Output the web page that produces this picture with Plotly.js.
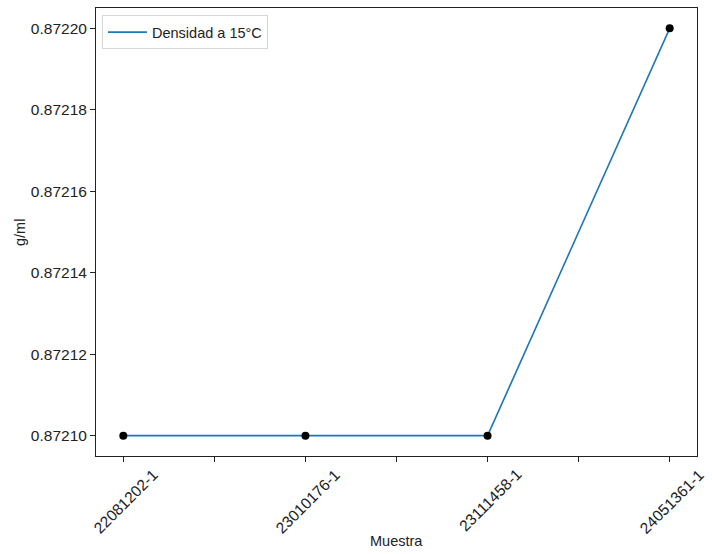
<!DOCTYPE html>
<html>
<head>
<meta charset="utf-8">
<script src="https://cdn.plot.ly/plotly-3.0.1.min.js"></script>
<style>html,body{margin:0;padding:0;background:#fff;}#chart{width:712px;height:554px;}</style>
</head>
<body>
<div id="chart"></div>
<script>
const muestras = ["22081202-1", "23010176-1", "23111458-1", "24051361-1"];
const densidad = [0.87210, 0.87210, 0.87210, 0.87220];
const serieNombre = "Densidad a 15°C";
const yTicks = [0.87210, 0.87212, 0.87214, 0.87216, 0.87218, 0.87220];
const yTickText = ["0.87210", "0.87212", "0.87214", "0.87216", "0.87218", "0.87220"];

const idx = muestras.map((_, i) => i);
const xTickVals = [];
for (let i = 0; i < muestras.length; i++) {
  xTickVals.push(i);
  if (i < muestras.length - 1) xTickVals.push(i + 0.5);
}

const fam = "Liberation Sans, Arial, sans-serif";
const col = "#222";

const traces = [
  {x: idx, y: densidad, mode: "lines", name: serieNombre,
   line: {color: "#1f77b4", width: 1.6}},
  {x: idx, y: densidad, mode: "markers", showlegend: false,
   marker: {color: "#000", size: 8}}
];

// category labels, centred under each tick like the original (rotated 45°)
const annotations = muestras.map((m, i) => ({
  x: i, xref: "x", y: 0, yref: "paper", text: m, showarrow: false,
  textangle: -45, xanchor: "center", yanchor: "top", yshift: -7, xshift: 2,
  font: {family: fam, size: 15.5, color: col}
}));
annotations.push({
  x: 0.5, xref: "paper", y: -0.19, yref: "paper", text: "Muestra", showarrow: false,
  xanchor: "center", yanchor: "middle", font: {family: fam, size: 14.5, color: col}
});
annotations.push({
  x: -0.1265, xref: "paper", y: 0.5, yref: "paper", text: "g/ml", showarrow: false,
  textangle: -90, xanchor: "center", yanchor: "middle", font: {family: fam, size: 14.5, color: col}
});

const layout = {
  width: 712, height: 554,
  margin: {l: 96, r: 15, t: 8, b: 98},
  paper_bgcolor: "#fff", plot_bgcolor: "#fff",
  font: {family: fam, size: 14.5, color: col},
  showlegend: true,
  legend: {x: 0.01, y: 0.984, xanchor: "left", yanchor: "top", itemwidth: 39,
           bordercolor: "#d6d6d6", borderwidth: 1, bgcolor: "rgba(255,255,255,0.8)",
           font: {family: fam, size: 14.5, color: col}},
  annotations: annotations,
  xaxis: {
    range: [-0.15, 3.15], tickmode: "array", tickvals: xTickVals, showticklabels: false,
    ticks: "outside", ticklen: 5, tickcolor: col, tickwidth: 1,
    showgrid: false, zeroline: false, showline: true, linecolor: col, linewidth: 1, mirror: true
  },
  yaxis: {
    range: [0.872095, 0.872205], tickmode: "array", tickvals: yTicks, ticktext: yTickText,
    ticks: "outside", ticklen: 5, tickcolor: col, tickwidth: 1,
    showgrid: false, zeroline: false, showline: true, linecolor: col, linewidth: 1, mirror: true,
    tickfont: {family: fam, size: 15.5, color: col}
  }
};

Plotly.newPlot("chart", traces, layout, {displayModeBar: false, staticPlot: true});
</script>
</body>
</html>
